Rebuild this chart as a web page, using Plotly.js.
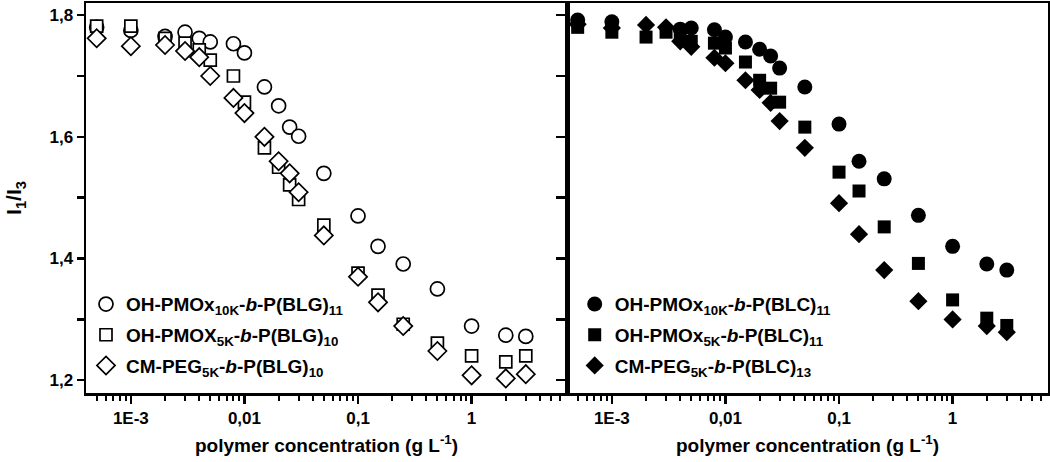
<!DOCTYPE html>
<html>
<head>
<meta charset="utf-8">
<script src="https://cdn.plot.ly/plotly-3.0.1.min.js"></script>
<style>html,body{margin:0;padding:0;background:#fff;}#chart{width:1050px;height:462px;}</style>
</head>
<body>
<div id="chart"></div>
<script>
// ---- data ----
var concAll = [0.0005, 0.001, 0.002, 0.003, 0.004, 0.005, 0.008, 0.01, 0.015, 0.02, 0.025, 0.03, 0.05, 0.1, 0.15, 0.25, 0.5, 1, 2, 3];

var blgPmox10K = [1.780, 1.775, 1.765, 1.772, 1.762, 1.756, 1.753, 1.738, 1.682, 1.651, 1.616, 1.601, 1.540, 1.470, 1.420, 1.391, 1.350, 1.289, 1.274, 1.272];
var blgPmox5K  = [1.782, 1.782, 1.762, 1.754, 1.743, 1.726, 1.700, 1.657, 1.582, 1.550, 1.521, 1.497, 1.455, 1.376, 1.340, 1.292, 1.261, 1.240, 1.230, 1.240];
var blgPeg5K   = [1.762, 1.749, 1.751, 1.741, 1.731, 1.700, 1.664, 1.639, 1.600, 1.560, 1.540, 1.509, 1.438, 1.370, 1.328, 1.289, 1.248, 1.208, 1.203, 1.210];

var concBlcPmox10K = [0.0005, 0.001, 0.004, 0.005, 0.008, 0.01, 0.015, 0.02, 0.025, 0.03, 0.05, 0.1, 0.15, 0.25, 0.5, 1, 2, 3];
var blcPmox10K = [1.792, 1.789, 1.777, 1.779, 1.776, 1.764, 1.756, 1.744, 1.733, 1.713, 1.682, 1.621, 1.560, 1.531, 1.471, 1.420, 1.391, 1.381];
var blcPmox5K  = [1.780, 1.772, 1.764, 1.772, 1.764, 1.757, 1.754, 1.746, 1.723, 1.693, 1.680, 1.657, 1.616, 1.542, 1.511, 1.452, 1.392, 1.332, 1.302, 1.290];
var blcPeg5K   = [1.785, 1.779, 1.784, 1.780, 1.757, 1.748, 1.730, 1.721, 1.693, 1.677, 1.656, 1.626, 1.582, 1.491, 1.440, 1.381, 1.330, 1.300, 1.289, 1.279];

var namesLeft = [
  'OH-PMOx<sub>10K</sub>-<i>b</i>-P(BLG)<sub>11</sub>',
  'OH-PMOX<sub>5K</sub>-<i>b</i>-P(BLG)<sub>10</sub>',
  'CM-PEG<sub>5K</sub>-<i>b</i>-P(BLG)<sub>10</sub>'
];
var namesRight = [
  'OH-PMOx<sub>10K</sub>-<i>b</i>-P(BLC)<sub>11</sub>',
  'OH-PMOx<sub>5K</sub>-<i>b</i>-P(BLC)<sub>11</sub>',
  'CM-PEG<sub>5K</sub>-<i>b</i>-P(BLC)<sub>13</sub>'
];

var xTickVals = [0.001, 0.01, 0.1, 1];
var xTickText = ['1E-3', '0,01', '0,1', '1'];
var yTickVals = [1.2, 1.3, 1.4, 1.5, 1.6, 1.7, 1.8];
var yTickText = ['1,2', '', '1,4', '', '1,6', '', '1,8'];

// ---- traces ----
var FONT = 'Liberation Sans, Arial, sans-serif';
function openTrace(x, y, name, symbol, size, group) {
  return {x: x, y: y, name: name, type: 'scatter', mode: 'markers',
    xaxis: 'x', yaxis: 'y', legend: 'legend', legendgroup: group,
    marker: {symbol: symbol, size: size, color: '#ffffff', line: {color: '#000', width: 1.7}}};
}
function solidTrace(x, y, name, symbol, size, group) {
  return {x: x, y: y, name: name, type: 'scatter', mode: 'markers',
    xaxis: 'x2', yaxis: 'y2', legend: 'legend2', legendgroup: group,
    marker: {symbol: symbol, size: size, color: '#000', line: {width: 0}}};
}
var data = [
  openTrace(concAll, blgPmox10K, namesLeft[0], 'circle', 14, 'a'),
  openTrace(concAll, blgPmox5K, namesLeft[1], 'square', 12, 'b'),
  openTrace(concAll, blgPeg5K, namesLeft[2], 'diamond', 14, 'c'),
  solidTrace(concBlcPmox10K, blcPmox10K, namesRight[0], 'circle', 15, 'd'),
  solidTrace(concAll, blcPmox5K, namesRight[1], 'square', 13, 'e'),
  solidTrace(concAll, blcPeg5K, namesRight[2], 'diamond', 14, 'f')
];

var tickFont = {family: FONT, size: 17, color: '#000', weight: 'bold'};
var titleFont = {family: FONT, size: 19, color: '#000', weight: 'bold'};
function xAxis(domain, anchor) {
  return {domain: domain, anchor: anchor, type: 'log', range: [-3.395, 0.84],
    tickvals: xTickVals, ticktext: xTickText, ticks: 'outside', ticklen: 8, tickwidth: 2.5,
    tickcolor: '#000', tickfont: tickFont, showgrid: false, zeroline: false,
    showline: true, linewidth: 2.5, linecolor: '#000', mirror: true,
    minor: {ticks: 'outside', ticklen: 5, tickwidth: 2, tickcolor: '#000', dtick: 'D1', showgrid: false},
    title: {text: 'polymer concentration (g L<sup>-1</sup>)', font: titleFont, standoff: 12}};
}
var layout = {
  width: 1050, height: 462,
  margin: {l: 86, r: 2, t: 3, b: 69},
  paper_bgcolor: '#fff', plot_bgcolor: '#fff',
  showlegend: true,
  xaxis: xAxis([0, 0.5], 'y'),
  xaxis2: xAxis([0.5, 1], 'y2'),
  yaxis: {domain: [0, 1], anchor: 'x', range: [1.179, 1.82], tickvals: yTickVals, ticktext: yTickText,
    ticks: 'outside', ticklen: 7, tickwidth: 2.5, tickcolor: '#000', tickfont: tickFont,
    showgrid: false, zeroline: false, showline: true, linewidth: 2.5, linecolor: '#000', mirror: true,
    title: {text: 'I<sub>1</sub>/I<sub>3</sub>', font: {family: FONT, size: 21, color: '#000', weight: 'bold'}, standoff: 22}},
  yaxis2: {domain: [0, 1], anchor: 'x2', range: [1.179, 1.82], tickvals: yTickVals, showticklabels: false,
    ticks: 'outside', ticklen: 9, tickwidth: 2.5, tickcolor: '#000',
    showgrid: false, zeroline: false, showline: true, linewidth: 2.5, linecolor: '#000', mirror: true},
  legend: {x: 0.0, xanchor: 'left', y: 0.02, yanchor: 'bottom', bgcolor: 'rgba(0,0,0,0)',
    font: {family: FONT, size: 19, color: '#000', weight: 'bold'}, tracegroupgap: 3},
  legend2: {x: 0.508, xanchor: 'left', y: 0.02, yanchor: 'bottom', bgcolor: 'rgba(0,0,0,0)',
    font: {family: FONT, size: 19, color: '#000', weight: 'bold'}, tracegroupgap: 3}
};
Plotly.newPlot('chart', data, layout, {staticPlot: true, displayModeBar: false});
</script>
</body>
</html>
